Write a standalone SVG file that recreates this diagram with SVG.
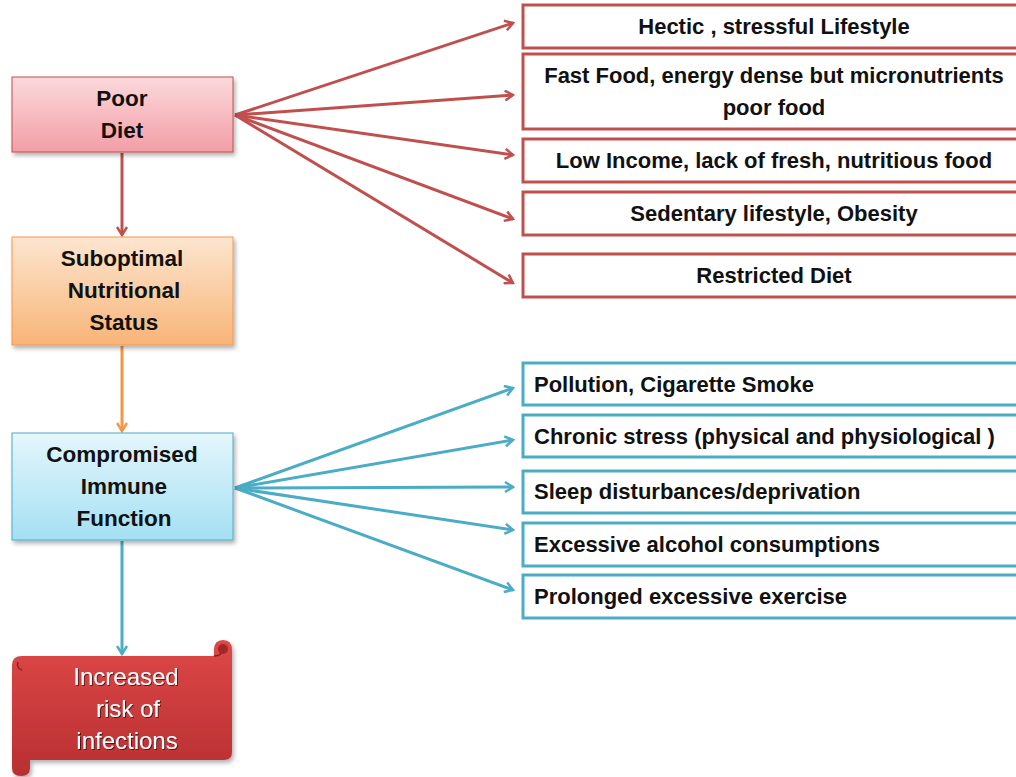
<svg xmlns="http://www.w3.org/2000/svg" width="1016" height="777" viewBox="0 0 1016 777">
<defs>
<linearGradient id="gPink" x1="0" y1="0" x2="0" y2="1"><stop offset="0" stop-color="#fbd9dc"/><stop offset="1" stop-color="#f29ea6"/></linearGradient>
<linearGradient id="gOrange" x1="0" y1="0" x2="0" y2="1"><stop offset="0" stop-color="#fde6d0"/><stop offset="1" stop-color="#f8b477"/></linearGradient>
<linearGradient id="gBlue" x1="0" y1="0" x2="0" y2="1"><stop offset="0" stop-color="#e4f6fc"/><stop offset="1" stop-color="#a4e0f3"/></linearGradient>
<linearGradient id="gRed" x1="0" y1="0" x2="0" y2="1"><stop offset="0" stop-color="#de4848"/><stop offset="1" stop-color="#b82f31"/></linearGradient>
<filter id="sh" x="-10%" y="-10%" width="130%" height="130%"><feDropShadow dx="2" dy="3" stdDeviation="2" flood-color="#000" flood-opacity="0.3"/></filter>
<filter id="tsh"><feDropShadow dx="1" dy="1" stdDeviation="0.6" flood-color="#000" flood-opacity="0.6"/></filter>
<marker id="mRed" viewBox="0 0 12 12" refX="10" refY="6" markerWidth="12" markerHeight="12" markerUnits="userSpaceOnUse" orient="auto"><path d="M2,1 L10,6 L2,11" fill="none" stroke="#c0504d" stroke-width="2.5"/></marker>
<marker id="mOr" viewBox="0 0 12 12" refX="10" refY="6" markerWidth="12" markerHeight="12" markerUnits="userSpaceOnUse" orient="auto"><path d="M2,1 L10,6 L2,11" fill="none" stroke="#f79646" stroke-width="2.5"/></marker>
<marker id="mBlue" viewBox="0 0 12 12" refX="10" refY="6" markerWidth="12" markerHeight="12" markerUnits="userSpaceOnUse" orient="auto"><path d="M2,1 L10,6 L2,11" fill="none" stroke="#4bacc6" stroke-width="2.5"/></marker>
</defs>
<style>
text{font-family:"Liberation Sans",Arial,sans-serif;font-weight:bold;fill:#111;}
.lt{font-size:22.5px;text-anchor:middle;}
.rt{font-size:22px;}
.st{font-weight:normal;font-size:24px;text-anchor:middle;fill:#fff;}
.rbox{fill:#fff;stroke:#c0504d;stroke-width:3;}
.bbox{fill:#fff;stroke:#4bacc6;stroke-width:3;}
.cr{stroke:#c0504d;stroke-width:3;fill:none;marker-end:url(#mRed);}
.cb{stroke:#4bacc6;stroke-width:3;fill:none;marker-end:url(#mBlue);}
.co{stroke:#f79646;stroke-width:3;fill:none;marker-end:url(#mOr);}
</style>
<rect width="1016" height="777" fill="#fff"/>
<g id="connectors">
<line class="cr" x1="122" y1="153" x2="122" y2="235"/>
<line class="co" x1="122" y1="346" x2="122" y2="431"/>
<line class="cb" x1="122" y1="541" x2="122" y2="654"/>
<line class="cr" x1="235" y1="115" x2="513" y2="23"/>
<line class="cr" x1="235" y1="115" x2="513" y2="95"/>
<line class="cr" x1="235" y1="115" x2="513" y2="155"/>
<line class="cr" x1="235" y1="115" x2="513" y2="219"/>
<line class="cr" x1="235" y1="115" x2="513" y2="283"/>
<line class="cb" x1="235" y1="488" x2="513" y2="388"/>
<line class="cb" x1="235" y1="488" x2="513" y2="440"/>
<line class="cb" x1="235" y1="488" x2="513" y2="487"/>
<line class="cb" x1="235" y1="488" x2="513" y2="530"/>
<line class="cb" x1="235" y1="488" x2="513" y2="590"/>
</g>
<g id="poor-diet"><rect x="12" y="77" width="221" height="75" fill="url(#gPink)" stroke="#c0504d" stroke-width="1" filter="url(#sh)"/><text class="lt" x="122" y="106">Poor</text><text class="lt" x="122" y="138">Diet</text></g>
<g id="suboptimal"><rect x="12" y="237" width="221" height="108" fill="url(#gOrange)" stroke="#f79646" stroke-width="1" filter="url(#sh)"/><text class="lt" x="122" y="266">Suboptimal</text><text class="lt" x="124" y="298">Nutritional</text><text class="lt" x="124" y="330">Status</text></g>
<g id="compromised"><rect x="12" y="433" width="221" height="107" fill="url(#gBlue)" stroke="#4bacc6" stroke-width="1" filter="url(#sh)"/><text class="lt" x="122" y="462">Compromised</text><text class="lt" x="124" y="494">Immune</text><text class="lt" x="124" y="526">Function</text></g>
<g id="infections" filter="url(#sh)">
<path d="M12,665 Q12,656 22,656 L214,656 L214,650 Q214,640 223,640 Q232,640 232,650 L232,752 Q232,760 224,760 L30,760 L30,768 Q30,776 21,776 Q12,776 12,768 Z" fill="url(#gRed)"/>
<path d="M214,656 Q222,656 222,650" fill="none" stroke="#8e1f22" stroke-width="1.5"/>
<circle cx="223" cy="649" r="5" fill="#a52628"/>
<path d="M22,670 Q16,668 18,662" fill="none" stroke="#8e1f22" stroke-width="1.5"/>
<text class="st" x="126" y="685" filter="url(#tsh)">Increased</text>
<text class="st" x="128" y="717" filter="url(#tsh)">risk of</text>
<text class="st" x="127" y="749" filter="url(#tsh)">infections</text>
</g>
<g id="r1"><rect class="rbox" x="523" y="5" width="500" height="43"/><text class="rt" x="774" y="34" text-anchor="middle">Hectic , stressful Lifestyle</text></g>
<g id="r2"><rect class="rbox" x="523" y="54" width="500" height="75"/><text class="rt" x="774" y="83" text-anchor="middle">Fast Food, energy dense but micronutrients</text><text class="rt" x="774" y="115" text-anchor="middle">poor food</text></g>
<g id="r3"><rect class="rbox" x="523" y="139" width="500" height="43"/><text class="rt" x="774" y="168" text-anchor="middle">Low Income, lack of fresh, nutritious food</text></g>
<g id="r4"><rect class="rbox" x="523" y="192" width="500" height="43"/><text class="rt" x="774" y="221" text-anchor="middle">Sedentary lifestyle, Obesity</text></g>
<g id="r5"><rect class="rbox" x="523" y="254" width="500" height="43"/><text class="rt" x="774" y="283" text-anchor="middle">Restricted Diet</text></g>
<g id="b1"><rect class="bbox" x="523" y="363" width="500" height="42"/><text class="rt" x="534" y="392">Pollution, Cigarette Smoke</text></g>
<g id="b2"><rect class="bbox" x="523" y="415" width="500" height="42"/><text class="rt" x="534" y="444">Chronic stress (physical and physiological )</text></g>
<g id="b3"><rect class="bbox" x="523" y="471" width="500" height="42"/><text class="rt" x="534" y="499">Sleep disturbances/deprivation</text></g>
<g id="b4"><rect class="bbox" x="523" y="523" width="500" height="43"/><text class="rt" x="534" y="552">Excessive alcohol consumptions</text></g>
<g id="b5"><rect class="bbox" x="523" y="575" width="500" height="43"/><text class="rt" x="534" y="604">Prolonged excessive exercise</text></g>
</svg>
